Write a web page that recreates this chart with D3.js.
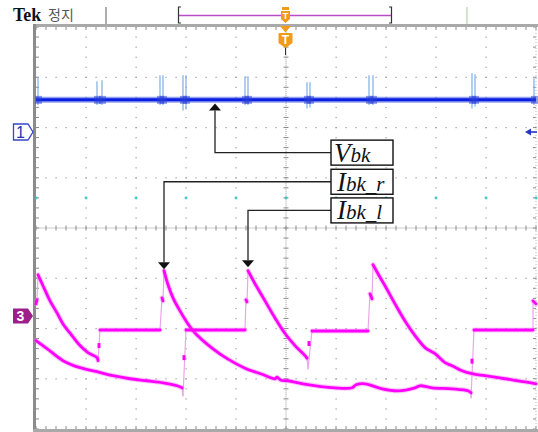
<!DOCTYPE html>
<html>
<head>
<meta charset="utf-8">
<script src="https://cdn.jsdelivr.net/npm/d3@7"></script>
<style>
  html, body { margin: 0; padding: 0; background: #fff; }
  svg { display: block; }
</style>
</head>
<body>
<div id="chart"></div>
<script>
// Scope screen: 10 x 8 divisions, every value below is in divisions from the screen centre.
// A point [x, y, 1] means the trace got there through a fast edge (drawn thin).
const xDivs = [-4, -3, -2, -1, 1, 2, 3, 4];
const yDivs = [-3, -2, -1, 1, 2, 3];
const cursorLevel = 0.6;

const vbkLevel = 2.55;
// [x, top, bottom] of the switching spikes on Vbk
const vbkSpikes = [
  [-4.96, 3.00, 2.45], [-3.78, 2.92, 2.45], [-3.68, 2.94, 2.45],
  [-2.52, 3.04, 2.45], [-2.46, 3.04, 2.45], [-2.06, 3.04, 2.34],
  [-2.00, 3.04, 2.36], [-0.82, 3.02, 2.45], [-0.76, 3.02, 2.45],
  [0.42, 2.90, 2.38], [0.48, 2.90, 2.40], [1.66, 3.04, 2.45],
  [1.74, 3.04, 2.45], [3.72, 3.08, 2.38], [3.78, 3.06, 2.42],
  [4.96, 2.98, 2.45]
];

const ibkR = [
  [-5.00, -1.51], [-4.98, -1.43],
  [-4.96, -0.93, 1],
  [-4.86, -1.15], [-4.72, -1.45], [-4.58, -1.69], [-4.46, -1.91], [-4.28, -2.14],
  [-4.12, -2.34], [-3.96, -2.48], [-3.78, -2.58], [-3.76, -2.64],
  [-3.72, -2.03, 1],
  [-2.52, -2.03],
  [-2.48, -1.39, 1], [-2.46, -1.45],
  [-2.44, -0.85, 1],
  [-2.36, -1.13], [-2.26, -1.39], [-2.12, -1.65], [-1.96, -1.91], [-1.82, -2.09],
  [-1.48, -2.39], [-1.16, -2.61], [-0.82, -2.79], [-0.48, -2.91], [-0.22, -3.00],
  [-0.18, -2.97], [-0.10, -3.03], [0.04, -3.04], [0.34, -3.10], [0.98, -3.18],
  [1.32, -3.18], [1.40, -3.12], [1.58, -3.10], [1.92, -3.20], [2.24, -3.24],
  [2.58, -3.18], [2.68, -3.14], [2.92, -3.18], [3.32, -3.20], [3.64, -3.24], [3.70, -3.28],
  [3.70, -3.38, 1], [3.76, -2.03, 1],
  [4.94, -2.03],
  [4.94, -1.45, 1], [5.00, -1.51]
];
const ibkRBlips = [[-3.74, -2.34], [3.72, -2.65]];

const ibkL = [
  [-5.00, -2.24], [-4.78, -2.40], [-4.46, -2.64], [-4.12, -2.78], [-3.78, -2.86],
  [-3.46, -2.94], [-3.12, -3.00], [-2.78, -3.04], [-2.46, -3.08], [-2.18, -3.14], [-2.08, -3.18],
  [-2.06, -3.34, 1], [-2.00, -2.03, 1],
  [-0.82, -2.03],
  [-0.80, -1.43, 1], [-0.78, -1.47],
  [-0.76, -0.85, 1],
  [-0.62, -1.11], [-0.42, -1.45], [-0.22, -1.79], [-0.02, -2.10], [0.18, -2.34],
  [0.38, -2.54], [0.42, -2.59],
  [0.44, -2.80, 1], [0.52, -2.05, 1],
  [1.64, -2.05],
  [1.68, -1.31, 1], [1.72, -1.41],
  [1.74, -0.73, 1],
  [1.84, -0.91], [1.98, -1.15], [2.18, -1.51], [2.38, -1.85], [2.58, -2.14],
  [2.78, -2.38], [2.98, -2.50], [3.18, -2.68], [3.32, -2.74], [3.52, -2.84],
  [3.72, -2.90], [3.98, -2.94], [4.38, -3.00], [4.78, -3.06], [5.00, -3.10]
];
const ibkLBlips = [[-2.04, -2.58], [0.46, -2.30]];

// callouts: label, point it aims at, level of the label box
const labels = [
  { main: 'V', sub: 'bk', at: [-1.42, 2.50], up: true, box: 1.5 },
  { main: 'I', sub: 'bk_r', at: [-2.44, -0.82], up: false, box: 0.92 },
  { main: 'I', sub: 'bk_l', at: [-0.76, -0.78], up: false, box: 0.35 }
];

const W = 538, H = 432;
const x = d3.scaleLinear().domain([-5, 5]).range([36, 536]);
const y = d3.scaleLinear().domain([-4, 4]).range([429, 27]);

const svg = d3.select('#chart').append('svg')
  .attr('width', W).attr('height', H)
  .attr('viewBox', `0 0 ${W} ${H}`);

// ---- graticule
const grid = svg.append('g').attr('fill', '#9a9a9a');
const fine = d3.range(-25, 26).map(i => i / 5);
const fineY = d3.range(-20, 21).map(i => i / 5);

xDivs.forEach(d => {
  grid.selectAll(null).data(fineY).join('rect')
    .attr('x', x(d) - 0.5).attr('y', v => y(v) - 0.5)
    .attr('width', 1.2).attr('height', 1.2);
});
yDivs.forEach(d => {
  grid.selectAll(null).data(fine).join('rect')
    .attr('x', v => x(v) - 0.5).attr('y', y(d) - 0.5)
    .attr('width', 1.2).attr('height', 1.2);
});

// centre axes: dense dots plus ticks
const dense = d3.range(-125, 126).map(i => i / 25);
const denseY = d3.range(-100, 101).map(i => i / 25);
grid.selectAll(null).data(dense).join('rect')
  .attr('x', v => x(v) - 0.5).attr('y', y(0) - 0.5).attr('width', 1).attr('height', 1);
grid.selectAll(null).data(denseY).join('rect')
  .attr('x', x(0) - 0.5).attr('y', v => y(v) - 0.5).attr('width', 1).attr('height', 1);

const ticks = svg.append('g').attr('stroke', '#8a8a8a').attr('stroke-width', 1);
ticks.selectAll(null).data(fine).join('line')
  .attr('x1', v => x(v)).attr('x2', v => x(v))
  .attr('y1', y(0) - 2.5).attr('y2', y(0) + 2.5);
ticks.selectAll(null).data(fineY).join('line')
  .attr('x1', x(0) - 2.5).attr('x2', x(0) + 2.5)
  .attr('y1', v => y(v)).attr('y2', v => y(v));
// frame ticks
ticks.selectAll(null).data(fine).join('line')
  .attr('x1', v => x(v)).attr('x2', v => x(v))
  .attr('y1', y(4)).attr('y2', y(4) + 3);
ticks.selectAll(null).data(fine).join('line')
  .attr('x1', v => x(v)).attr('x2', v => x(v))
  .attr('y1', y(-4) - 3).attr('y2', y(-4));
ticks.selectAll(null).data(fineY).join('line')
  .attr('x1', x(-5)).attr('x2', x(-5) + 3)
  .attr('y1', v => y(v)).attr('y2', v => y(v));
ticks.selectAll(null).data(fineY).join('line')
  .attr('x1', x(5) - 3).attr('x2', x(5))
  .attr('y1', v => y(v)).attr('y2', v => y(v));

// frame bars
svg.append('rect').attr('x', x(-5) - 3).attr('y', y(4) - 3)
  .attr('width', x(5) - x(-5) + 5).attr('height', 3).attr('fill', '#a9a9a9');
svg.append('rect').attr('x', x(-5) - 3).attr('y', y(4) - 3)
  .attr('width', 3).attr('height', H - y(4) + 3).attr('fill', '#8c8c8c');
svg.append('rect').attr('x', x(-5) - 3).attr('y', y(-4))
  .attr('width', x(5) - x(-5) + 5).attr('height', 3).attr('fill', '#a9a9a9');
svg.append('line').attr('x1', x(5)).attr('x2', x(5)).attr('y1', y(4)).attr('y2', y(-4))
  .attr('stroke', '#b8b8b8').attr('stroke-dasharray', '1,2');

// cyan cursor dots
const cyan = svg.append('g').attr('fill', '#2ec4c4');
[-5, ...xDivs.slice(0, 4), 0, ...xDivs.slice(4), 5].forEach(d => {
  cyan.append('rect').attr('x', x(d) - 1.5).attr('y', y(cursorLevel) - 0.5).attr('width', 3).attr('height', 1.2);
  cyan.append('rect').attr('x', x(d) - 0.5).attr('y', y(cursorLevel) - 1.5).attr('width', 1.2).attr('height', 3);
});

// ---- Vbk trace
const vb = svg.append('g');
vb.selectAll(null).data(vbkSpikes).join('line')
  .attr('x1', d => x(d[0])).attr('x2', d => x(d[0]))
  .attr('y1', d => y(d[1])).attr('y2', d => y(d[2]))
  .attr('stroke', '#7eaee8').attr('stroke-width', 1.2);
vb.append('line').attr('x1', x(-5)).attr('x2', x(5))
  .attr('y1', y(vbkLevel)).attr('y2', y(vbkLevel))
  .attr('stroke', '#3a55e6').attr('stroke-width', 6).attr('opacity', 0.55);
vb.append('line').attr('x1', x(-5)).attr('x2', x(5))
  .attr('y1', y(vbkLevel)).attr('y2', y(vbkLevel))
  .attr('stroke', '#0a1fe0').attr('stroke-width', 3);
vb.selectAll(null).data(vbkSpikes).join('rect')
  .attr('x', d => x(d[0]) - 3).attr('y', y(vbkLevel) - 4)
  .attr('width', 7).attr('height', 8).attr('fill', '#2a40d8').attr('opacity', 0.5);

// ---- current traces
function split(pts) {
  const main = [], edges = [];
  let cur = [pts[0]];
  for (let i = 1; i < pts.length; i++) {
    const p = pts[i];
    if (p[2]) {
      if (cur.length > 1) main.push(cur);
      edges.push([pts[i - 1], p]);
      cur = [p];
    } else {
      cur.push(p);
    }
  }
  if (cur.length > 1) main.push(cur);
  return { main, edges };
}

const line = d3.line().x(d => x(d[0])).y(d => y(d[1])).curve(d3.curveCatmullRom.alpha(0.5));
const traces = svg.append('g').attr('fill', 'none').attr('stroke-linecap', 'round');

[[ibkR, ibkRBlips], [ibkL, ibkLBlips]].forEach(([pts, blips]) => {
  const parts = split(pts);
  traces.selectAll(null).data(parts.edges).join('path')
    .attr('d', d3.line().x(d => x(d[0])).y(d => y(d[1])))
    .attr('stroke', '#eba6eb').attr('stroke-width', 1.2);
  traces.selectAll(null).data(parts.main).join('path')
    .attr('d', line).attr('stroke', '#f06af0').attr('stroke-width', 5).attr('opacity', 0.35);
  traces.selectAll(null).data(parts.main).join('path')
    .attr('d', line).attr('stroke', '#ff00ff').attr('stroke-width', 2.8);
  traces.selectAll(null).data(blips).join('rect')
    .attr('x', d => x(d[0]) - 1.5).attr('y', d => y(d[1]) - 2.5)
    .attr('width', 3).attr('height', 5).attr('fill', '#ff00ff').attr('stroke', 'none');
});

// ---- callouts
const boxX = 331, boxW = 62, boxH = 25;
const call = svg.append('g');
labels.forEach(l => {
  const by = y(l.box);
  const ax = x(l.at[0]), ay = y(l.at[1]);
  const tipY = l.up ? ay + 1 : ay;
  const baseY = l.up ? tipY + 7 : tipY - 7;
  call.append('path')
    .attr('d', `M${boxX},${by}H${ax}V${baseY}`)
    .attr('fill', 'none').attr('stroke', '#222').attr('stroke-width', 1.3);
  call.append('path')
    .attr('d', `M${ax},${tipY}L${ax - 6},${baseY}L${ax + 6},${baseY}Z`)
    .attr('fill', '#111');
  call.append('rect')
    .attr('x', boxX).attr('y', by - boxH / 2).attr('width', boxW).attr('height', boxH)
    .attr('fill', '#fff').attr('stroke', '#111').attr('stroke-width', 1.4);
  const t = call.append('text')
    .attr('x', boxX + (l.main === 'V' ? 3 : 6)).attr('y', by + 9)
    .attr('font-family', '"Liberation Serif", "DejaVu Serif", serif')
    .attr('font-style', 'italic').attr('fill', '#111');
  t.append('tspan').attr('font-size', 27).text(l.main);
  t.append('tspan').attr('font-size', 21).text(l.sub);
});

// ---- channel markers
const m1y = 132, m3y = 316;
svg.append('path')
  .attr('d', `M13.5,${m1y - 8}H28L33,${m1y}L28,${m1y + 8}H13.5Z`)
  .attr('fill', '#fff').attr('stroke', '#3646c8').attr('stroke-width', 1.3);
svg.append('text').attr('x', 20.5).attr('y', m1y + 6).attr('text-anchor', 'middle')
  .attr('font-family', 'Arial, "Liberation Sans", sans-serif').attr('font-size', 16)
  .attr('fill', '#2433b8').text('1');
svg.append('path')
  .attr('d', `M13,${m3y - 7.5}H28L33,${m3y}L28,${m3y + 7.5}H13Z`)
  .attr('fill', '#9e1f8c');
svg.append('text').attr('x', 20.5).attr('y', m3y + 5).attr('text-anchor', 'middle')
  .attr('font-family', 'Arial, "Liberation Sans", sans-serif').attr('font-size', 14)
  .attr('font-weight', 'bold').attr('fill', '#fff').text('3');

// trigger level arrow on the right
svg.append('path').attr('d', `M525,132L531,128.5V135.5Z`).attr('fill', '#2438c8');
svg.append('line').attr('x1', 530).attr('x2', 537).attr('y1', 132).attr('y2', 132)
  .attr('stroke', '#2438c8').attr('stroke-width', 1.6);

// ---- status bar
svg.append('text').attr('x', 13).attr('y', 21)
  .attr('font-family', '"Liberation Serif", "DejaVu Serif", serif')
  .attr('font-weight', 'bold').attr('font-size', 18).attr('fill', '#111').text('Tek');
svg.append('text').attr('x', 48).attr('y', 20)
  .attr('font-family', '"Noto Sans CJK KR", sans-serif').attr('font-size', 14)
  .attr('fill', '#555').text('정지');
svg.append('line').attr('x1', 106).attr('x2', 106).attr('y1', 7).attr('y2', 24)
  .attr('stroke', '#777').attr('stroke-width', 1.2);
svg.append('path').attr('d', 'M181,7H178.5V23H181').attr('fill', 'none')
  .attr('stroke', '#333').attr('stroke-width', 1.2);
svg.append('path').attr('d', 'M389,7H391.5V23H389').attr('fill', 'none')
  .attr('stroke', '#333').attr('stroke-width', 1.2);
svg.append('line').attr('x1', 179).attr('x2', 391).attr('y1', 15.5).attr('y2', 15.5)
  .attr('stroke', '#b84cc6').attr('stroke-width', 1.3);
svg.append('line').attr('x1', 467).attr('x2', 467).attr('y1', 7).attr('y2', 24)
  .attr('stroke', '#c5dcbd').attr('stroke-width', 1.5);

// trigger position markers
const tx = x(0) - 0.5;
const orange = '#f29a1c';
svg.append('rect').attr('x', tx - 3.5).attr('y', 7).attr('width', 7).attr('height', 3).attr('fill', orange);
svg.append('path').attr('d', `M${tx - 4.5},11H${tx + 4.5}V19L${tx},23L${tx - 4.5},19Z`).attr('fill', orange);
svg.append('text').attr('x', tx).attr('y', 19).attr('text-anchor', 'middle')
  .attr('font-family', '"Liberation Sans", sans-serif').attr('font-size', 9).attr('font-weight', 'bold')
  .attr('fill', '#fff').text('T');
svg.append('path').attr('d', `M${tx - 5.5},26H${tx + 5.5}L${tx},32.5Z`).attr('fill', orange);
svg.append('line').attr('x1', tx).attr('x2', tx).attr('y1', 46).attr('y2', 55)
  .attr('stroke', '#333').attr('stroke-width', 1);
svg.append('path').attr('d', `M${tx - 7},34Q${tx - 7},33 ${tx - 6},33H${tx + 6}Q${tx + 7},33 ${tx + 7},34V43L${tx},48L${tx - 7},43Z`)
  .attr('fill', orange);
svg.append('text').attr('x', tx).attr('y', 44).attr('text-anchor', 'middle')
  .attr('font-family', '"Liberation Sans", sans-serif').attr('font-size', 12).attr('font-weight', 'bold')
  .attr('fill', '#fff').text('T');
</script>
</body>
</html>
